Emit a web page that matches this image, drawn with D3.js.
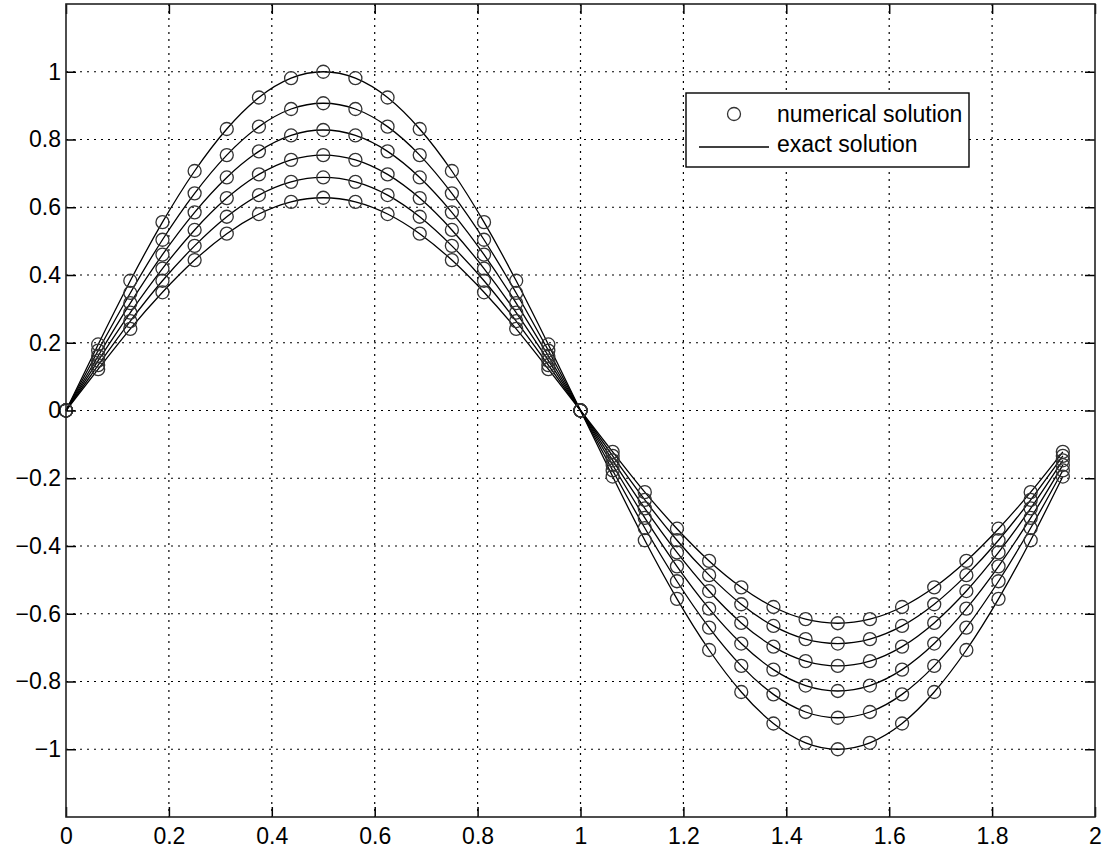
<!DOCTYPE html>
<html>
<head>
<meta charset="utf-8">
<script src="https://cdn.jsdelivr.net/npm/d3@7"></script>
<style>
  body { margin: 0; background: #fff; }
  svg { display: block; }
  text { font-family: "Liberation Sans", Arial, sans-serif; fill: #000; }
</style>
</head>
<body>
<svg id="viz_area" width="1107" height="853"></svg>
<script>
// sample points
var xs = [0, 0.0625, 0.125, 0.1875, 0.25, 0.3125, 0.375, 0.4375, 0.5, 0.5625, 0.625, 0.6875, 0.75, 0.8125, 0.875, 0.9375,
  1, 1.0625, 1.125, 1.1875, 1.25, 1.3125, 1.375, 1.4375, 1.5, 1.5625, 1.625, 1.6875, 1.75, 1.8125, 1.875, 1.9375]

// one array per time level
var u1 = [0, 0.195, 0.383, 0.556, 0.707, 0.831, 0.924, 0.981, 1.0, 0.981, 0.924, 0.831, 0.707, 0.556, 0.383, 0.195,
  0, -0.195, -0.383, -0.556, -0.707, -0.831, -0.924, -0.981, -1.0, -0.981, -0.924, -0.831, -0.707, -0.556, -0.383, -0.195]
var u2 = [0, 0.177, 0.347, 0.504, 0.641, 0.754, 0.838, 0.890, 0.907, 0.890, 0.838, 0.754, 0.641, 0.504, 0.347, 0.177,
  0, -0.177, -0.347, -0.504, -0.641, -0.754, -0.838, -0.890, -0.907, -0.890, -0.838, -0.754, -0.641, -0.504, -0.347, -0.177]
var u3 = [0, 0.161, 0.317, 0.460, 0.585, 0.688, 0.765, 0.812, 0.828, 0.812, 0.765, 0.688, 0.585, 0.460, 0.317, 0.161,
  0, -0.161, -0.317, -0.460, -0.585, -0.688, -0.765, -0.812, -0.828, -0.812, -0.765, -0.688, -0.585, -0.460, -0.317, -0.161]
var u4 = [0, 0.147, 0.289, 0.419, 0.533, 0.627, 0.697, 0.740, 0.754, 0.740, 0.697, 0.627, 0.533, 0.419, 0.289, 0.147,
  0, -0.147, -0.289, -0.419, -0.533, -0.627, -0.697, -0.740, -0.754, -0.740, -0.697, -0.627, -0.533, -0.419, -0.289, -0.147]
var u5 = [0, 0.134, 0.264, 0.383, 0.486, 0.572, 0.636, 0.675, 0.688, 0.675, 0.636, 0.572, 0.486, 0.383, 0.264, 0.134,
  0, -0.134, -0.264, -0.383, -0.486, -0.572, -0.636, -0.675, -0.688, -0.675, -0.636, -0.572, -0.486, -0.383, -0.264, -0.134]
var u6 = [0, 0.122, 0.241, 0.349, 0.444, 0.522, 0.580, 0.616, 0.628, 0.616, 0.580, 0.522, 0.444, 0.349, 0.241, 0.122,
  0, -0.122, -0.241, -0.349, -0.444, -0.522, -0.580, -0.616, -0.628, -0.616, -0.580, -0.522, -0.444, -0.349, -0.241, -0.122]
var series = [u1, u2, u3, u4, u5, u6]

var xTicks = [0, 0.2, 0.4, 0.6, 0.8, 1, 1.2, 1.4, 1.6, 1.8, 2]
var xTickLabels = ["0", "0.2", "0.4", "0.6", "0.8", "1", "1.2", "1.4", "1.6", "1.8", "2"]
var yTicks = [-1, -0.8, -0.6, -0.4, -0.2, 0, 0.2, 0.4, 0.6, 0.8, 1]
var yTickLabels = ["\u22121", "\u22120.8", "\u22120.6", "\u22120.4", "\u22120.2", "0", "0.2", "0.4", "0.6", "0.8", "1"]
var legendLabels = ["numerical solution", "exact solution"]

var svg = d3.select("#viz_area")
// plot box edges (window.top is reserved, so prefixed names)
var boxL = 66, boxT = 4, boxR = 1095, boxB = 817

var x = d3.scaleLinear().domain([0, 2]).range([boxL, boxR])
var y = d3.scaleLinear().domain([-1.2, 1.2]).range([boxB, boxT])

// grid
var grid = svg.append("g").attr("stroke", "#000").attr("stroke-width", 1.2).attr("stroke-dasharray", "2,5")
grid.selectAll(".gx").data(xTicks.slice(1, -1)).enter().append("line")
  .attr("x1", d => x(d)).attr("x2", d => x(d)).attr("y1", boxT).attr("y2", boxB)
grid.selectAll(".gy").data(yTicks).enter().append("line")
  .attr("y1", d => y(d)).attr("y2", d => y(d)).attr("x1", boxL).attr("x2", boxR)

// exact solution lines
var line = d3.line().x((d, i) => x(xs[i])).y(d => y(d)).curve(d3.curveNatural)
svg.append("g").selectAll("path").data(series).enter().append("path")
  .attr("d", line).attr("fill", "none").attr("stroke", "#000").attr("stroke-width", 1.3)

// numerical solution markers
series.forEach(function (s) {
  svg.append("g").selectAll("circle").data(s).enter().append("circle")
    .attr("cx", (d, i) => x(xs[i])).attr("cy", d => y(d)).attr("r", 6.5)
    .attr("fill", "none").attr("stroke", "#333").attr("stroke-width", 1.3)
})

// axes
var fmtX = d => xTickLabels[xTicks.indexOf(d)]
var fmtY = d => yTickLabels[yTicks.indexOf(d)]
function styleAxis(g) {
  g.select(".domain").remove()
  g.selectAll(".tick line").attr("stroke", "#000").attr("stroke-width", 1.5)
  g.selectAll("text").style("font-size", "23px").attr("fill", "#000")
}
svg.append("g").attr("transform", "translate(0," + boxB + ")")
  .call(d3.axisBottom(x).tickValues(xTicks).tickFormat(fmtX).tickSizeInner(-10).tickSizeOuter(0).tickPadding(11))
  .call(styleAxis)
svg.append("g").attr("transform", "translate(0," + boxT + ")")
  .call(d3.axisTop(x).tickValues(xTicks).tickFormat("").tickSizeInner(-10).tickSizeOuter(0))
  .call(styleAxis)
svg.append("g").attr("transform", "translate(" + boxL + ",0)")
  .call(d3.axisLeft(y).tickValues(yTicks).tickFormat(fmtY).tickSizeInner(-10).tickSizeOuter(0).tickPadding(5))
  .call(styleAxis)
svg.append("g").attr("transform", "translate(" + boxR + ",0)")
  .call(d3.axisRight(y).tickValues(yTicks).tickFormat("").tickSizeInner(-10).tickSizeOuter(0))
  .call(styleAxis)

svg.append("rect").attr("x", boxL).attr("y", boxT).attr("width", boxR - boxL).attr("height", boxB - boxT)
  .attr("fill", "none").attr("stroke", "#222").attr("stroke-width", 1.6)

// legend
var lg = svg.append("g")
lg.append("rect").attr("x", 686).attr("y", 93).attr("width", 283).attr("height", 74)
  .attr("fill", "#fff").attr("stroke", "#000").attr("stroke-width", 1.4)
lg.append("circle").attr("cx", 734).attr("cy", 114).attr("r", 6.5)
  .attr("fill", "none").attr("stroke", "#333").attr("stroke-width", 1.3)
lg.append("line").attr("x1", 699).attr("x2", 769).attr("y1", 147).attr("y2", 147)
  .attr("stroke", "#000").attr("stroke-width", 1.3)
lg.selectAll("text").data(legendLabels).enter().append("text")
  .attr("x", 777).attr("y", (d, i) => 122 + i * 30).style("font-size", "23px").text(d => d)
</script>
</body>
</html>
